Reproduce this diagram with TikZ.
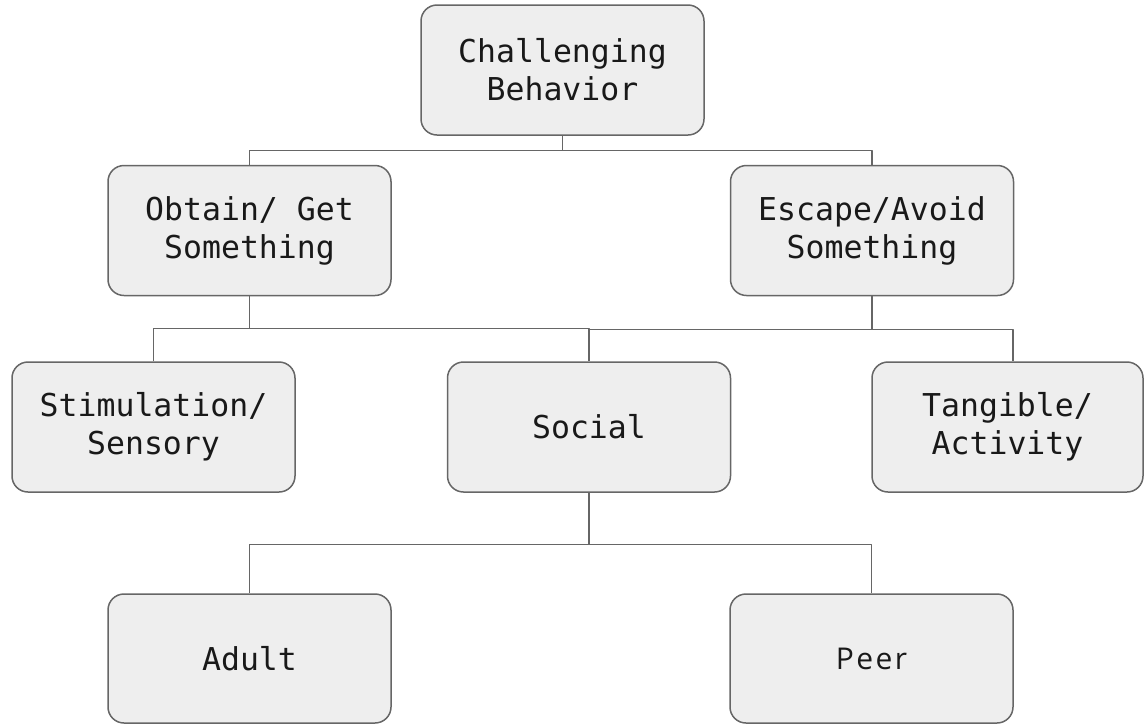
\documentclass[tikz,border=0pt]{standalone}
\usepackage{fontspec}
\newfontfamily\boxfont{DejaVu Sans Mono}
\newfontfamily\peerfont[LetterSpace=8]{Open Sans}
\usetikzlibrary{calc}
\definecolor{boxgray}{HTML}{EEEEEE}
\definecolor{linegray}{HTML}{666666}
\tikzset{
  behbox/.style={draw=linegray, fill=boxgray, line width=1.5pt, rounded corners=16pt,
    minimum width=283pt, minimum height=130pt, inner sep=0pt, align=center,
    font=\boxfont\fontsize{31.5}{38}\selectfont, text=black!90},
  link/.style={draw=linegray, line width=1.4pt}
}
\begin{document}
\begin{tikzpicture}[x=1pt, y=-1pt, line join=round]
			\useasboundingbox (0,0) rectangle (1144,724);
			% top level
			\node[behbox] (cb) at (562.5,70) {Challenging\\Behavior};
			% functions
			\node[behbox] (obt) at (249.5,230.5) {Obtain/ Get\\Something};
			\node[behbox] (esc) at (872,230.5) {Escape/Avoid\\Something};
			% what is obtained or avoided
			\node[behbox] (stim) at (153.5,427) {Stimulation/\\Sensory};
			\node[behbox] (soc) at (589,427) {Social};
			\node[behbox, minimum width=271pt] (tang) at (1007.5,427) {Tangible/\\Activity};
			% social split
			\node[behbox, minimum height=129pt] (adult) at (249.5,658.5) {Adult};
			\node[behbox, minimum height=129pt, font=\peerfont\fontsize{30}{36}\selectfont] (peer) at (871.5,658.5) {Peer};
			\draw[link] (cb.south) -- ++(0,15) -| (obt.north);
			\draw[link] (cb.south) -- ++(0,15) -| (esc.north);
			\draw[link] (obt.south) -- ++(0,32) -| (stim.north);
			\draw[link] (obt.south) -- ++(0,32) -| (soc.north);
			\draw[link] (esc.south) -- ++(0,33) -| (soc.north);
			\draw[link] (esc.south) -- ++(0,33) -| ([xshift=5.5pt]tang.north);
			\draw[link] (soc.south) -- ++(0,52) -| (adult.north);
			\draw[link] (soc.south) -- ++(0,52) -| (peer.north);
		\end{tikzpicture}
\end{document}
